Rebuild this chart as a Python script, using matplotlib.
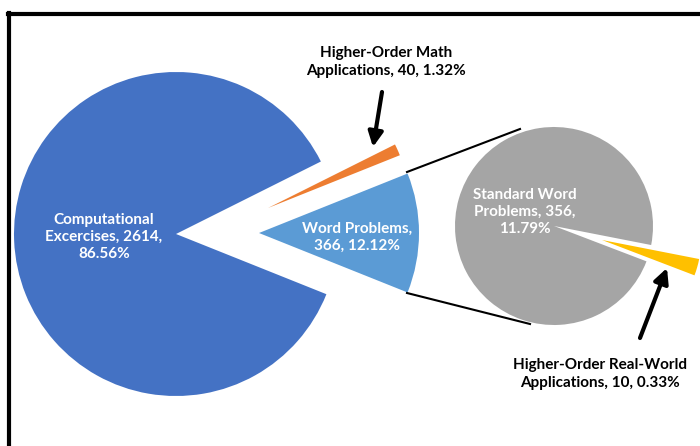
import matplotlib.pyplot as plt
from matplotlib.patches import Wedge
from matplotlib.lines import Line2D

# main pie
main_labels = ['Word Problems', 'Higher-Order Math\nApplications', 'Computational\nExcercises']
main_values = [366, 40, 2614]
main_colors = ['#5B9BD5', '#ED7D31', '#4472C4']

# second pie (split of word problems)
sub_labels = ['Higher-Order Real-World\nApplications', 'Standard Word\nProblems']
sub_values = [10, 356]
sub_colors = ['#FFC000', '#A5A5A5']

total = sum(main_values)

plt.rcParams['font.family'] = ['Lato', 'DejaVu Sans']
fig = plt.figure(figsize=(7, 4.46), dpi=100)
ax = fig.add_axes([0, 0, 1, 1])
ax.set_xlim(0, 700)
ax.set_ylim(446, 0)
ax.axis('off')


def wedge(center, r, a1, a2, color):
    # a1, a2 are visual angles (counterclockwise, y up); y axis is inverted
    ax.add_patch(Wedge(center, r, -a2, -a1, facecolor=color, edgecolor='none'))


# main pie: word problems centered on 0 deg, then the others counterclockwise
half = main_values[0] / total * 360 / 2
a_start = -half
centers = [(259, 233), (268, 208), (176, 234)]
radii = [160, 142, 162]
for v, c, cen, r in zip(main_values, main_colors, centers, radii):
    span = v / total * 360
    wedge(cen, r, a_start, a_start + span, c)
    a_start += span

# second pie
sub_total = sum(sub_values)
yspan = sub_values[0] / sub_total * 360
ymid = -16
wedge((602, 240), 99, ymid - yspan / 2, ymid + yspan / 2, sub_colors[0])
wedge((554, 226), 99, ymid + yspan / 2, ymid - yspan / 2 + 360, sub_colors[1])

# connector lines
ax.plot([407, 520], [172, 129], color='black', lw=1.5)
ax.plot([407, 530], [293, 324], color='black', lw=1.5)


def pct(v):
    return f'{v / total * 100:.2f}%'


lab = dict(fontsize=11, fontweight='bold', ha='center', va='center', linespacing=1.3)
ax.text(104, 237, f'Computational\nExcercises, {main_values[2]},\n{pct(main_values[2])}',
        color='white', **lab)
ax.text(357, 237, f'Word Problems,\n{main_values[0]}, {pct(main_values[0])}',
        color='white', **lab)
ax.text(386, 62, f'Higher-Order Math\nApplications, {main_values[1]}, {pct(main_values[1])}',
        color='black', **lab)
ax.text(525, 212, f'Standard Word\nProblems, {sub_values[1]},\n{pct(sub_values[1])}',
        color='white', **lab)
ax.text(600, 374, f'Higher-Order Real-World\nApplications, {sub_values[0]}, {pct(sub_values[0])}',
        color='black', **lab)

# arrows
arrow = dict(arrowstyle='-|>', lw=3, color='black', mutation_scale=22, shrinkA=0, shrinkB=0)
ax.annotate('', xy=(373, 147), xytext=(382, 92), arrowprops=arrow)
ax.annotate('', xy=(667, 268), xytext=(640, 338), arrowprops=arrow)

# frame (cropped at right and bottom)
fig.add_artist(Line2D([9 / 700, 9 / 700], [0, 1 - 13 / 446], color='black', lw=3))
fig.add_artist(Line2D([8 / 700, 1], [1 - 14 / 446, 1 - 14 / 446], color='black', lw=3))

fig.savefig('out.png', dpi=100)
